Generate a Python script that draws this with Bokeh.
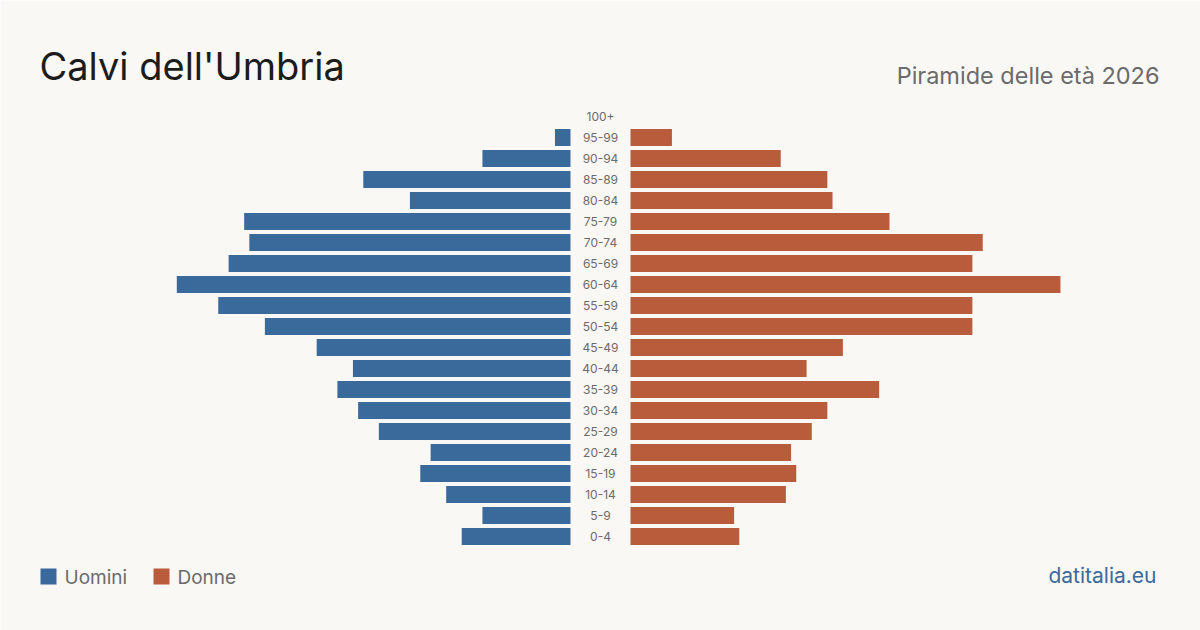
from bokeh.plotting import figure
from bokeh.models import Range1d, ColumnDataSource
from bokeh.core.properties import value
from bokeh.embed import file_html
from bokeh.resources import INLINE

# ---- data ----
age_groups = ["0-4", "5-9", "10-14", "15-19", "20-24", "25-29", "30-34", "35-39",
              "40-44", "45-49", "50-54", "55-59", "60-64", "65-69", "70-74",
              "75-79", "80-84", "85-89", "90-94", "95-99", "100+"]
males = [21, 17, 24, 29, 27, 37, 41, 45, 42, 49, 59, 68, 76, 66, 62, 63, 31, 40, 17, 3, 0]
females = [21, 20, 30, 32, 31, 35, 38, 48, 34, 41, 66, 66, 83, 66, 68, 50, 39, 38, 29, 8, 0]

title = "Calvi dell'Umbria"
subtitle = "Piramide delle età 2026"
legend_labels = ["Uomini", "Donne"]
source_label = "datitalia.eu"

# ---- style ----
W, H = 1200, 630
BG = "#f9f8f4"
BLUE = "#3a6a9c"
ORANGE = "#b95c3c"
FONT = "Inter"
PX_PER_UNIT = 5.18
CENTER_PX = 600
GAP_PX = 30
ROW_PX = 21
ROW0_PY = 536
BAR_PX = 17


def xd(px):
    return (px - CENTER_PX) / PX_PER_UNIT


def yd(py):
    return (ROW0_PY - py) / ROW_PX


gap = GAP_PX / PX_PER_UNIT
rows = list(range(len(age_groups)))

p = figure(width=W, height=H, output_backend="svg", toolbar_location=None,
           x_range=Range1d(xd(0), xd(W)), y_range=Range1d(yd(H), yd(0)),
           min_border=0, min_border_left=0, min_border_right=0,
           min_border_top=0, min_border_bottom=0)
p.axis.visible = False
p.grid.visible = False
p.outline_line_color = None
p.background_fill_color = BG
p.border_fill_color = BG

src = ColumnDataSource(dict(
    y=rows,
    m_left=[-gap - v for v in males],
    m_right=[-gap] * len(males),
    f_left=[gap] * len(females),
    f_right=[gap + v for v in females],
    label=age_groups,
    lx=[0] * len(rows),
))

bh = BAR_PX / ROW_PX
p.hbar(y="y", left="m_left", right="m_right", height=bh, source=src,
       fill_color=BLUE, line_color=None)
p.hbar(y="y", left="f_left", right="f_right", height=bh, source=src,
       fill_color=ORANGE, line_color=None)

p.text(x="lx", y="y", text="label", source=src, text_align="center",
       text_baseline="middle", text_font=value(FONT), text_font_size="12px",
       text_color="#6b6b6b")

# title and subtitle
p.text(x=[xd(39)], y=[yd(65)], text=[title], text_font=value(FONT),
       text_font_size="38px", text_color="#1c1c1c", text_baseline="alphabetic")
p.text(x=[xd(1159)], y=[yd(75)], text=[subtitle], text_font=value(FONT),
       text_font_size="23.5px", text_color="#6b6b6b", text_align="right",
       text_baseline="alphabetic")

# legend
p.scatter(x=[xd(48), xd(161)], y=[yd(576), yd(576)], marker="square", size=16,
          fill_color=[BLUE, ORANGE], line_color=None)
p.text(x=[xd(64), xd(177)], y=[yd(576.5), yd(576.5)], text=legend_labels,
       text_font=value(FONT), text_font_size="19px", text_color="#6b6b6b",
       text_baseline="alphabetic")

# source
p.text(x=[xd(1156)], y=[yd(575)], text=[source_label], text_font=value(FONT),
       text_font_size="21px", text_color=BLUE, text_align="right",
       text_baseline="alphabetic")

open("out.html", "w").write(file_html(p, INLINE))
